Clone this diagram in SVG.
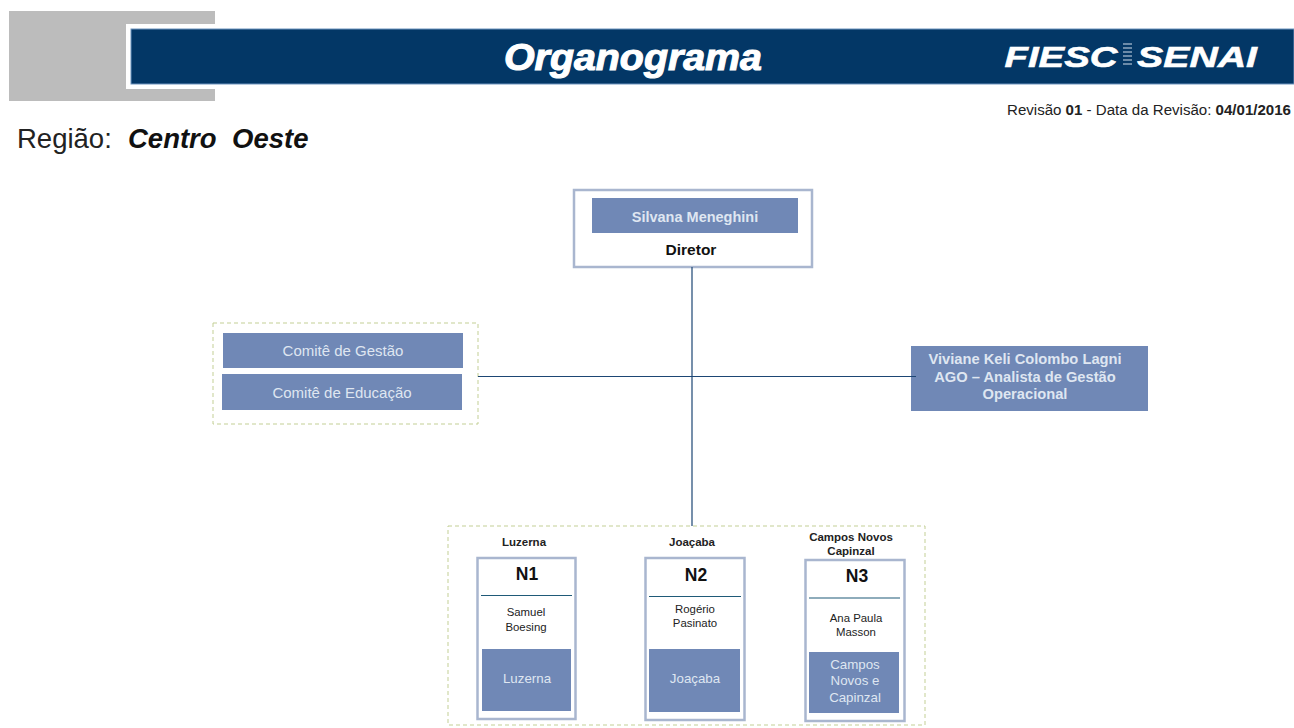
<svg xmlns="http://www.w3.org/2000/svg" width="1294" height="728" viewBox="0 0 1294 728">
<style>
text{font-family:"Liberation Sans",Arial,sans-serif;text-anchor:middle}
.b{fill:#7088b6}
.f{fill:#fff;stroke:#a9b6cf;stroke-width:2.500}
.d{fill:#fff;stroke:#c3cf95;stroke-width:1;stroke-dasharray:4 3}
.w{fill:#dfe6f1}
.wb{fill:#dfe6f1;font-weight:bold}
.k{fill:#111;font-weight:bold}
.s{fill:#222;font-size:11.400px}
.l{fill:#222;font-size:11.500px;font-weight:bold}
.c{stroke:#1d4674;stroke-width:1.200;fill:none}
.r{stroke:#1f5a78;stroke-width:1.200}
.t{fill:#fff;font-weight:bold;font-style:italic}
</style>
<rect width="1294" height="728" fill="#fff"/>
<g id="header">
<rect x="9" y="11" width="206" height="90" fill="#bcbcbc"/>
<rect x="126" y="24" width="1168" height="65" fill="#fff"/>
<rect x="131" y="29" width="1163" height="55" fill="#033766" stroke="#6c93bd" stroke-width="1"/>
<text class="t" x="633" y="70" font-size="37" stroke="#fff" stroke-width="1.100" textLength="258" lengthAdjust="spacingAndGlyphs">Organograma</text>
<text class="t" x="1061" y="67" font-size="30" stroke="#fff" stroke-width=".6" textLength="113" lengthAdjust="spacingAndGlyphs">FIESC</text>
<text class="t" x="1197" y="67" font-size="30" stroke="#fff" stroke-width=".6" textLength="120" lengthAdjust="spacingAndGlyphs">SENAI</text>
<path d="M1123 44h9M1123 48h9M1123 52h9M1123 56h9M1123 60h9M1123 64h9" stroke="#8ea6bf" stroke-width="1.500"/>
<text x="1149" y="115" font-size="14" fill="#222" textLength="284" lengthAdjust="spacingAndGlyphs">Revisão <tspan font-weight="bold">01</tspan> - Data da Revisão: <tspan font-weight="bold">04/01/2016</tspan></text>
<text x="17" y="148" font-size="27.500" fill="#222" style="text-anchor:start">Região:</text>
<text x="128" y="148" font-size="27.500" font-weight="bold" font-style="italic" fill="#111" style="text-anchor:start">Centro</text>
<text x="232" y="148" font-size="27.500" font-weight="bold" font-style="italic" fill="#111" style="text-anchor:start">Oeste</text>
</g>
<g id="diretor">
<rect class="f" x="574" y="190" width="238" height="77"/>
<rect class="b" x="592" y="198" width="206" height="35"/>
<text class="wb" x="695" y="222" font-size="14.500">Silvana Meneghini</text>
<text class="k" x="691" y="255" font-size="15.500">Diretor</text>
</g>
<g id="comites">
<rect class="d" x="213" y="323" width="265" height="101"/>
<rect class="b" x="223" y="333" width="240" height="35"/>
<text class="w" x="343" y="356" font-size="15">Comitê de Gestão</text>
<rect class="b" x="222" y="374" width="240" height="36"/>
<text class="w" x="342" y="398" font-size="15">Comitê de Educação</text>
</g>
<g id="analista">
<rect class="b" x="911" y="346" width="237" height="65"/>
<text class="wb" x="1025" y="364" font-size="14.700">Viviane Keli Colombo Lagni</text>
<text class="wb" x="1025" y="382" font-size="14.700">AGO – Analista de Gestão</text>
<text class="wb" x="1025" y="399" font-size="14.700">Operacional</text>
</g>
<g id="unidades">
<rect class="d" x="448" y="526" width="477" height="199"/>
</g>
<g id="n1">
<text class="l" x="524" y="546">Luzerna</text>
<rect class="f" x="477.500" y="558" width="98" height="161"/>
<text class="k" x="527" y="580" font-size="17.500">N1</text>
<line class="r" x1="481" x2="572" y1="595.500" y2="595.500"/>
<text class="s" x="526" y="616">Samuel</text>
<text class="s" x="526" y="631">Boesing</text>
<rect class="b" x="482" y="649" width="89" height="62"/>
<text class="w" x="527" y="683" font-size="13.300">Luzerna</text>
</g>
<g id="n2">
<text class="l" x="692" y="546">Joaçaba</text>
<rect class="f" x="645.500" y="558" width="99" height="162"/>
<text class="k" x="696" y="581" font-size="17.500">N2</text>
<line class="r" x1="649" x2="741" y1="596.500" y2="596.500"/>
<text class="s" x="695" y="613">Rogério</text>
<text class="s" x="695" y="627">Pasinato</text>
<rect class="b" x="649" y="649" width="91" height="63"/>
<text class="w" x="695" y="683" font-size="13.300">Joaçaba</text>
</g>
<g id="n3">
<text class="l" x="851" y="541">Campos Novos</text>
<text class="l" x="851" y="555">Capinzal</text>
<rect class="f" x="805.500" y="560" width="99" height="161"/>
<text class="k" x="857" y="582" font-size="17.500">N3</text>
<line class="r" x1="809" x2="900" y1="598" y2="598"/>
<text class="s" x="856" y="622">Ana Paula</text>
<text class="s" x="856" y="636">Masson</text>
<rect class="b" x="809" y="652" width="90" height="61"/>
<text class="w" x="855" y="669" font-size="13.300">Campos</text>
<text class="w" x="855" y="685" font-size="13.300">Novos e</text>
<text class="w" x="855" y="702" font-size="13.300">Capinzal</text>
</g>
<g id="connectors">
<path class="c" d="M692 267V526M478 376.500H916"/>
</g>
</svg>
